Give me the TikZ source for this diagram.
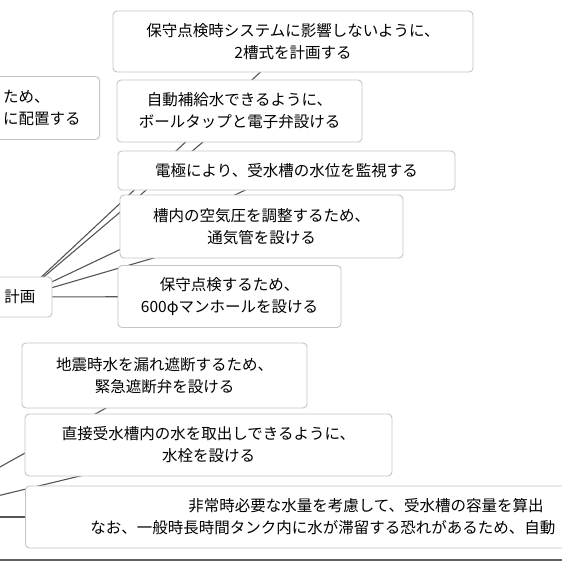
\documentclass[tikz,border=0pt]{standalone}
\usepackage{fontspec}
\newfontfamily\jpfont{Noto Sans CJK JP}
\usetikzlibrary{positioning, backgrounds}
\definecolor{boxline}{HTML}{C4C4C4}
\definecolor{linkline}{HTML}{555555}

\begin{document}
\begin{tikzpicture}[x=1pt, y=-1pt,
                    topic/.style={draw=boxline, line width=0.9pt, fill=white, rounded corners=4pt, align=center, inner sep=0pt,
                                  font=\jpfont\fontsize{15.5}{22}\selectfont},
                    link/.style={draw=linkline, line width=1.1pt}]
    \useasboundingbox (0,0) rectangle (562,562);
    \clip (0,0) rectangle (562,562);
    % roots
    \node[topic, minimum width=64pt, minimum height=40pt] (plan) at (20,297) {計画};
    \coordinate (root2) at (-90,517);
    % branches of plan
    \node[topic, minimum width=360pt, minimum height=61pt] (twin) at (293,41.5) {保守点検時システムに影響しないように、\\2槽式を計画する};
    \node[topic, minimum width=245pt, minimum height=62pt] (feed) at (239.5,111) {自動補給水できるように、\\ボールタップと電子弁設ける};
    \node[topic, minimum width=337pt, minimum height=39pt] (level) at (286.5,170.5) {電極により、受水槽の水位を監視する};
    \node[topic, minimum width=283pt, minimum height=63pt] (vent) at (261.5,226.5) {槽内の空気圧を調整するため、\\通気管を設ける};
    \node[topic, minimum width=223pt, minimum height=62pt] (hole) at (229.5,296.5) {保守点検するため、\\600φマンホールを設ける};
    % branches of root2
    \node[topic, minimum width=285pt, minimum height=65pt] (quake) at (164.5,375.5) {地震時水を漏れ遮断するため、\\緊急遮断弁を設ける};
    \node[topic, minimum width=367pt, minimum height=62pt] (tap) at (208.5,445) {直接受水槽内の水を取出しできるように、\\水栓を設ける};
    \node[topic, anchor=west, align=left, inner xsep=65pt, minimum height=62pt] (volume) at (25,517)
        {\hspace*{98pt}非常時必要な水量を考慮して、受水槽の容量を算出\\なお、一般時長時間タンク内に水が滞留する恐れがあるため、自動};
    % side topic
    \node[topic, anchor=east, align=left, inner xsep=19pt, minimum height=63pt] (place) at (100,108) {\hspace*{-4pt}ため、\\\hspace*{-4pt}に配置する};
    % links, behind the boxes
    \begin{scope}[on background layer]
        \clip (0,0) rectangle (562,562);
        \foreach \t in {twin,feed,level,vent,hole} \draw[link] (plan.center) -- (\t.center);
        \foreach \t in {quake,tap} \draw[link] (root2) -- (\t.center);
        \draw[link] (root2) -- (root2 -| volume.center);
    \end{scope}
    \draw[draw=gray!75!black, line width=1.6pt] (0,560) -- (562,560);
\end{tikzpicture}
\end{document}
